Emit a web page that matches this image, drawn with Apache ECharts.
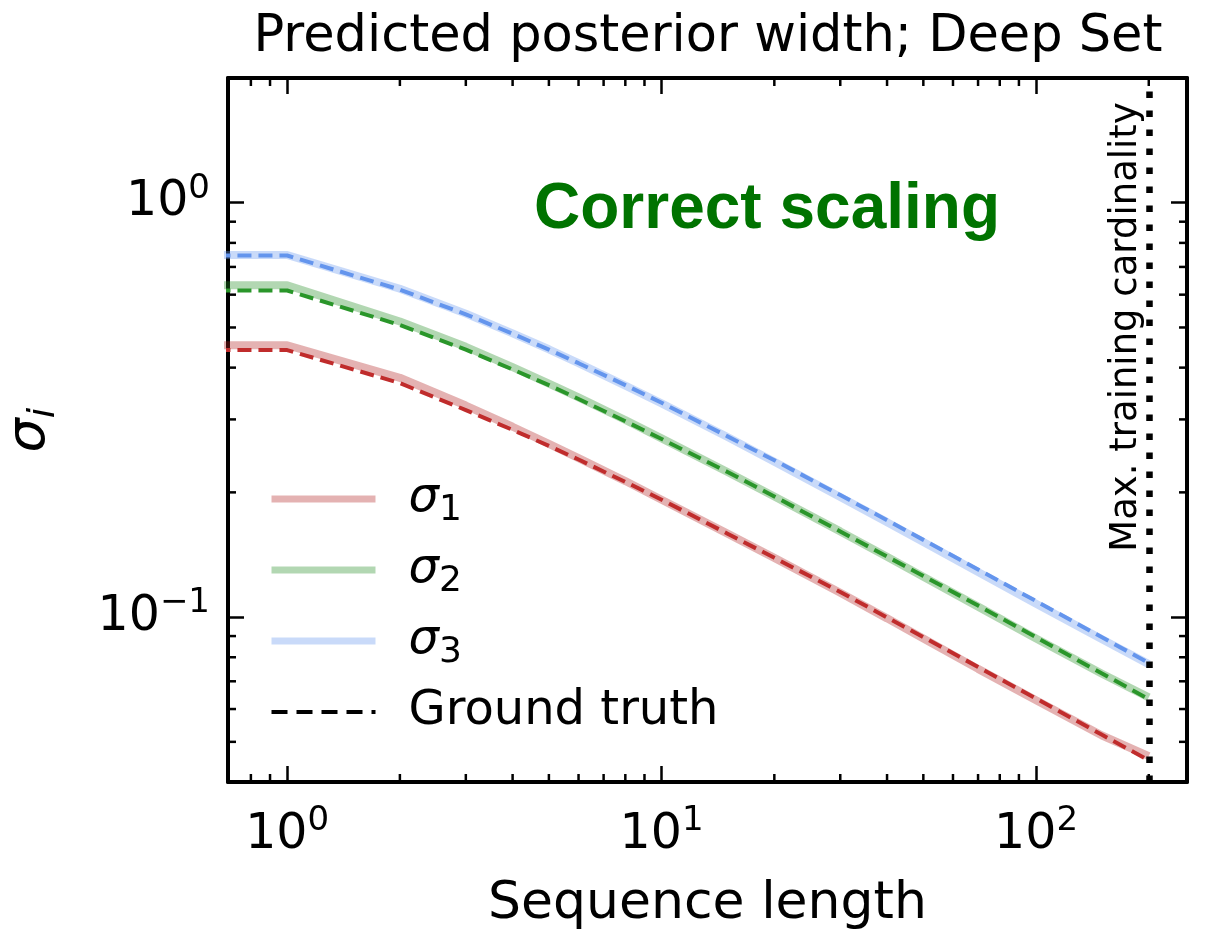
<!DOCTYPE html>
<html>
<head>
<meta charset="UTF-8">
<title>Predicted posterior width; Deep Set</title>
<script src="https://cdn.jsdelivr.net/npm/echarts@6/dist/echarts.min.js"></script>
<style>
  html, body { margin: 0; padding: 0; background: #fff; }
  #chart { width: 1209px; height: 929px; }
</style>
</head>
<body>
<div id="chart"></div>
<script>
  // sequence lengths (0.5 stands in for the clipped n=0 point that gives the flat start)
  const seqLength = [0.5, 1, 2, 3, 4, 5, 6, 8, 10, 15, 20, 30, 40, 50, 70, 100, 150, 200];

  const sigma1Pred  = [0.453, 0.453, 0.378, 0.324, 0.288, 0.262, 0.242, 0.213, 0.192, 0.159, 0.139, 0.1145, 0.0993, 0.0888, 0.0750, 0.0630, 0.0518, 0.0462];
  const sigma1Truth = [0.441, 0.441, 0.367, 0.316, 0.283, 0.259, 0.240, 0.212, 0.192, 0.159, 0.139, 0.115, 0.0998, 0.0895, 0.0758, 0.0636, 0.0520, 0.0451];
  const sigma2Pred  = [0.632, 0.632, 0.517, 0.449, 0.401, 0.366, 0.339, 0.299, 0.270, 0.224, 0.1955, 0.161, 0.1398, 0.1252, 0.1060, 0.0888, 0.0730, 0.0640];
  const sigma2Truth = [0.614, 0.614, 0.507, 0.442, 0.396, 0.363, 0.336, 0.297, 0.269, 0.224, 0.1955, 0.161, 0.140, 0.1257, 0.1066, 0.0894, 0.0731, 0.0634];
  const sigma3Pred  = [0.748, 0.748, 0.620, 0.540, 0.484, 0.443, 0.410, 0.362, 0.328, 0.272, 0.237, 0.195, 0.1695, 0.1518, 0.1285, 0.1077, 0.0884, 0.0770];
  const sigma3Truth = [0.746, 0.746, 0.617, 0.538, 0.483, 0.442, 0.410, 0.363, 0.329, 0.273, 0.239, 0.197, 0.1713, 0.1536, 0.1303, 0.1093, 0.0894, 0.0775];

  const maxCardinality = 200;

  // minor tick positions (matplotlib style 2..9 per decade)
  const xMinorTicks = [0.8, 0.9, 2, 3, 4, 5, 6, 7, 8, 9, 20, 30, 40, 50, 60, 70, 80, 90, 200];
  const yMinorTicks = [0.05, 0.06, 0.07, 0.08, 0.09, 0.2, 0.3, 0.4, 0.5, 0.6, 0.7, 0.8, 0.9];

  const X_MIN = 0.695, X_MAX = 253;
  const Y_MIN = 0.04, Y_MAX = 2;
  const FONT = 'DejaVu Sans';
  const MAJOR_LEN = 16, MINOR_LEN = 8, TICK_W = 2.5;

  const colors = ['#c02c2c', '#2a962a', '#6495ed'];
  const faded = ['rgba(178,34,34,0.35)', 'rgba(34,139,34,0.35)', 'rgba(100,149,237,0.35)'];

  const chart = echarts.init(document.getElementById('chart'));

  function powLabel(v) {
    const e = Math.log10(v);
    const r = Math.round(e);
    if (Math.abs(e - r) > 1e-6) return '';
    return '{b|10}{sup|' + (r < 0 ? '\u2212' + (-r) : r) + '}';
  }

  const labelRich = {
    b: { fontFamily: FONT, fontSize: 49, lineHeight: 62, color: '#000' },
    sup: { fontFamily: FONT, fontSize: 34, lineHeight: 34, verticalAlign: 'top', color: '#000' }
  };

  const axisCommon = {
    type: 'log',
    logBase: 10,
    axisLine: { show: true, lineStyle: { color: '#000', width: 4 } },
    axisTick: { show: true, inside: true, length: MAJOR_LEN, lineStyle: { color: '#000', width: TICK_W } },
    splitLine: { show: false },
    minorTick: { show: false },
    minorSplitLine: { show: false }
  };

  const line = (x1, y1, x2, y2) => ({
    type: 'line',
    shape: { x1, y1, x2, y2 },
    style: { stroke: '#000', lineWidth: TICK_W }
  });

  function xMinorItem(params, api) {
    const v = api.value(0);
    const a = api.coord([v, Y_MIN]);
    const b = api.coord([v, Y_MAX]);
    return { type: 'group', children: [line(a[0], a[1], a[0], a[1] - MINOR_LEN), line(b[0], b[1], b[0], b[1] + MINOR_LEN)] };
  }
  function yMinorItem(params, api) {
    const v = api.value(1);
    const a = api.coord([X_MIN, v]);
    const b = api.coord([X_MAX, v]);
    return { type: 'group', children: [line(a[0], a[1], a[0] + MINOR_LEN, a[1]), line(b[0], b[1], b[0] - MINOR_LEN, b[1])] };
  }

  const pairs = arr => seqLength.map((x, i) => [x, arr[i]]);
  const preds = [sigma1Pred, sigma2Pred, sigma3Pred];
  const truths = [sigma1Truth, sigma2Truth, sigma3Truth];
  const names = ['sigma1', 'sigma2', 'sigma3'];

  const series = [];
  preds.forEach((p, i) => {
    series.push({
      name: names[i], type: 'line', data: pairs(p), symbol: 'none', z: 2,
      lineStyle: { color: faded[i], width: 8 }, itemStyle: { color: faded[i] }
    });
  });
  truths.forEach((t, i) => {
    series.push({
      name: 'gt' + i, type: 'line', data: pairs(t), symbol: 'none', z: 3,
      lineStyle: { color: colors[i], width: 4, type: [14, 7] }, itemStyle: { color: colors[i] }
    });
  });
  series.push({
    name: 'Ground truth', type: 'line', data: [], symbol: 'none',
    lineStyle: { color: '#000', width: 4, type: [15, 7] }, itemStyle: { color: '#000' },
    markLine: {
      silent: true, symbol: ['none', 'none'], label: { show: false }, z: 5,
      lineStyle: { color: '#000', width: 6.5, type: [6.5, 12.5], cap: 'butt' },
      data: [{ xAxis: maxCardinality }]
    }
  });
  series.push({
    type: 'custom', renderItem: xMinorItem, silent: true, z: 6,
    data: xMinorTicks.map(v => [v, Y_MIN])
  });
  series.push({
    type: 'custom', renderItem: yMinorItem, silent: true, z: 6,
    data: yMinorTicks.map(v => [X_MIN, v])
  });

  const legendText = {
    sigma1: '{s|σ}{sub|1}',
    sigma2: '{s|σ}{sub|2}',
    sigma3: '{s|σ}{sub|3}',
    'Ground truth': '{g|Ground truth}'
  };
  const noSymbol = { color: 'rgba(0,0,0,0)', borderWidth: 0, opacity: 0 };

  const option = {
    animation: false,
    grid: { left: 228, right: 22, top: 78, bottom: 147, containLabel: false, outerBoundsMode: 'none' },
    xAxis: [
      Object.assign({}, axisCommon, {
        position: 'bottom', min: X_MIN, max: X_MAX,
        axisLabel: { formatter: powLabel, margin: 22, rich: labelRich },
        name: 'Sequence length', nameLocation: 'middle', nameGap: 96,
        nameTextStyle: { fontFamily: FONT, fontSize: 52, color: '#000' }
      }),
      Object.assign({}, axisCommon, {
        position: 'top', min: X_MIN, max: X_MAX, axisLabel: { show: false }
      })
    ],
    yAxis: [
      Object.assign({}, axisCommon, {
        position: 'left', min: Y_MIN, max: Y_MAX,
        axisLabel: { formatter: powLabel, margin: 18, rich: labelRich },
        name: '{s|σ}{sub|i}', nameLocation: 'middle', nameGap: 165, nameRotate: 90,
        nameTextStyle: {
          rich: {
            s: { fontFamily: FONT, fontStyle: 'italic', fontSize: 54, lineHeight: 66, color: '#000' },
            sub: { fontFamily: FONT, fontStyle: 'italic', fontSize: 38, lineHeight: 38, verticalAlign: 'bottom', color: '#000' }
          }
        }
      }),
      Object.assign({}, axisCommon, {
        position: 'right', min: Y_MIN, max: Y_MAX, axisLabel: { show: false }
      })
    ],
    legend: {
      orient: 'vertical', left: 268, top: 469, padding: 0, itemGap: 11,
      itemWidth: 104, itemHeight: 20, selectedMode: false,
      itemStyle: noSymbol,
      data: [
        { name: 'sigma1', itemStyle: noSymbol, lineStyle: { color: faded[0], width: 7 } },
        { name: 'sigma2', itemStyle: noSymbol, lineStyle: { color: faded[1], width: 7 } },
        { name: 'sigma3', itemStyle: noSymbol, lineStyle: { color: faded[2], width: 7 } },
        { name: 'Ground truth', itemStyle: noSymbol, lineStyle: { color: '#000', width: 4, type: [16, 9] } }
      ],
      formatter: name => legendText[name],
      textStyle: {
        fontFamily: FONT, fontSize: 48, lineHeight: 60, color: '#000',
        rich: {
          s: { fontFamily: FONT, fontStyle: 'italic', fontSize: 48, lineHeight: 60, padding: [0, 0, 0, 28], color: '#000' },
          sub: { fontFamily: FONT, fontSize: 36, lineHeight: 36, verticalAlign: 'bottom', color: '#000' },
          g: { fontFamily: FONT, fontSize: 48, lineHeight: 60, padding: [0, 0, 0, 28], color: '#000' }
        }
      }
    },
    graphic: [
      {
        type: 'text', x: 708, y: 38,
        style: { text: 'Predicted posterior width; Deep Set', font: '51px "DejaVu Sans"', fill: '#000', textAlign: 'center', textVerticalAlign: 'middle' }
      },
      {
        type: 'text', x: 767, y: 210, z: 10,
        style: { text: 'Correct scaling', font: 'bold 64px "Liberation Sans"', fill: '#007300', textAlign: 'center', textVerticalAlign: 'middle' }
      },
      {
        type: 'text', x: 1126, y: 327, rotation: Math.PI / 2, z: 10,
        style: { text: 'Max. training cardinality', font: '37px "DejaVu Sans"', fill: '#000', textAlign: 'center', textVerticalAlign: 'middle' }
      }
    ],
    series: series
  };

  chart.setOption(option);
</script>
</body>
</html>
